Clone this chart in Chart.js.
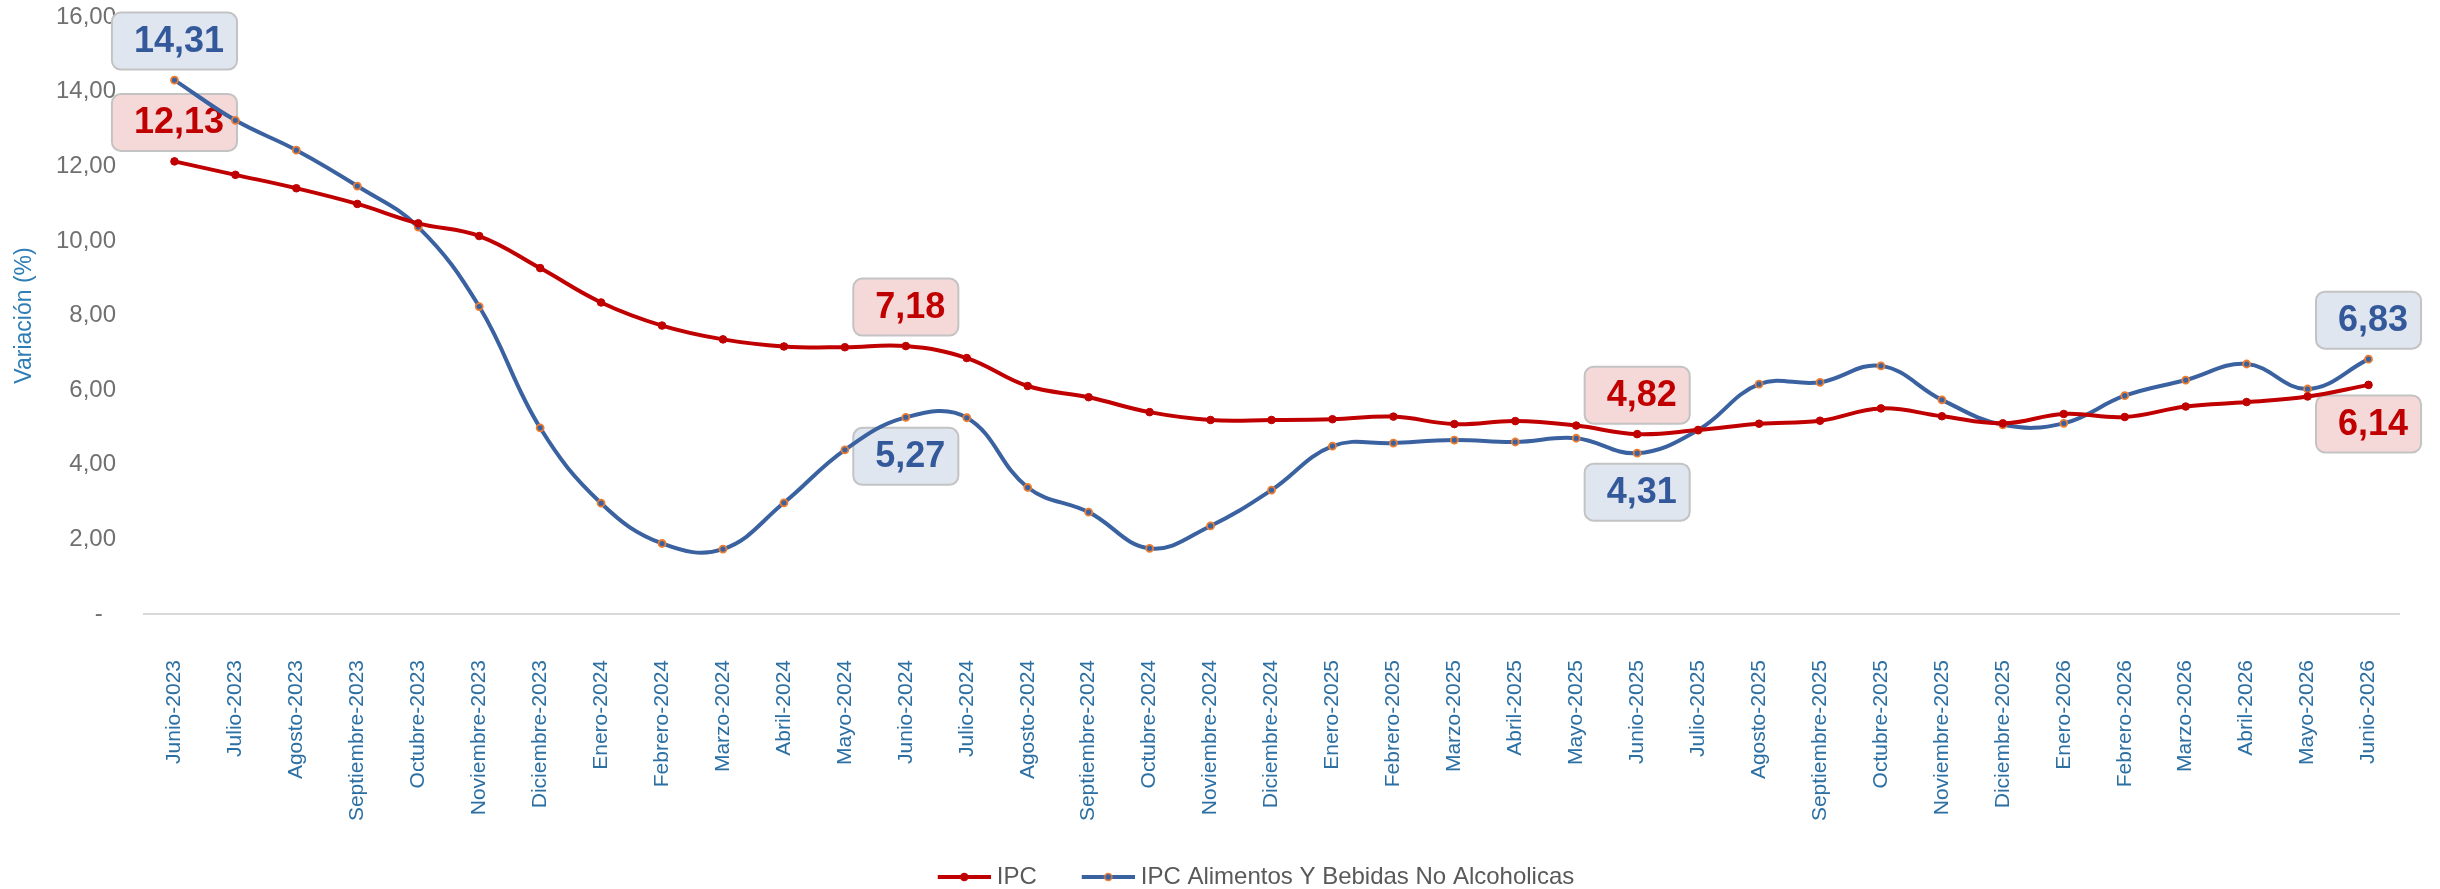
<!DOCTYPE html>
<html lang="es">
<head>
<meta charset="utf-8">
<title>Variación IPC</title>
<script src="https://cdn.jsdelivr.net/npm/chart.js@4.4.1/dist/chart.umd.min.js"></script>
<style>
  html, body { margin: 0; padding: 0; background: #fff; }
  #wrap { width: 2440px; height: 889px; }
</style>
</head>
<body>
<div id="wrap"><canvas id="grafico" width="2440" height="889"></canvas></div>
<script>
// Datos
const meses = [
  'Junio-2023', 'Julio-2023', 'Agosto-2023', 'Septiembre-2023', 'Octubre-2023', 'Noviembre-2023', 'Diciembre-2023',
  'Enero-2024', 'Febrero-2024', 'Marzo-2024', 'Abril-2024', 'Mayo-2024', 'Junio-2024', 'Julio-2024', 'Agosto-2024',
  'Septiembre-2024', 'Octubre-2024', 'Noviembre-2024', 'Diciembre-2024',
  'Enero-2025', 'Febrero-2025', 'Marzo-2025', 'Abril-2025', 'Mayo-2025', 'Junio-2025', 'Julio-2025', 'Agosto-2025',
  'Septiembre-2025', 'Octubre-2025', 'Noviembre-2025', 'Diciembre-2025',
  'Enero-2026', 'Febrero-2026', 'Marzo-2026', 'Abril-2026', 'Mayo-2026', 'Junio-2026'
];

const ipc = [
  12.13, 11.77, 11.41, 10.99, 10.47, 10.13, 9.27,
  8.35, 7.73, 7.36, 7.17, 7.15, 7.18, 6.86, 6.11,
  5.81, 5.41, 5.20, 5.20,
  5.22, 5.29, 5.09, 5.17, 5.05, 4.82, 4.93, 5.10,
  5.18, 5.51, 5.30, 5.11,
  5.36, 5.28, 5.56, 5.68, 5.83, 6.14
];

const ipcAlimentos = [
  14.31, 13.23, 12.43, 11.47, 10.37, 8.24, 4.99,
  2.97, 1.89, 1.74, 2.98, 4.40, 5.27, 5.26, 3.39,
  2.73, 1.76, 2.36, 3.32,
  4.50, 4.58, 4.66, 4.61, 4.71, 4.31, 4.93, 6.16,
  6.21, 6.65, 5.74, 5.07,
  5.11, 5.85, 6.27, 6.70, 6.03, 6.83
];

const yTickLabels = ['-', '2,00', '4,00', '6,00', '8,00', '10,00', '12,00', '14,00', '16,00'];

// puntos con etiqueta (indice) y lado: -1 arriba, 1 abajo
const ipcEtiquetas = [0, 12, 24, 36];
const ipcLados = [-1, -1, -1, 1];
const alimEtiquetas = [0, 12, 24, 36];
const alimLados = [-1, 1, 1, -1];

const ROJO = '#c00000';
const AZUL = '#3b62a0';
const NARANJA = '#ed7d31';
const FUENTE = '"Liberation Sans", Arial, sans-serif';

function formato(v) {
  return v.toFixed(2).replace('.', ',');
}

// Marcador de la leyenda: linea con punto
function marcador(colorLinea, colorPunto, bordePunto) {
  const c = document.createElement('canvas');
  c.width = 70;
  c.height = 12;
  const g = c.getContext('2d');
  g.strokeStyle = colorLinea;
  g.lineWidth = 4;
  g.beginPath();
  g.moveTo(17, 6);
  g.lineTo(70, 6);
  g.stroke();
  g.beginPath();
  g.arc(43.5, 6, 3.5, 0, Math.PI * 2);
  g.fillStyle = colorPunto;
  g.fill();
  g.lineWidth = 1.5;
  g.strokeStyle = bordePunto;
  g.stroke();
  return c;
}
const marcadores = [marcador(ROJO, ROJO, ROJO), marcador(AZUL, AZUL, NARANJA)];

// Cajas con el valor
const estilosEtiqueta = [
  { idx: ipcEtiquetas, lados: ipcLados, fondo: '#f5d9d9', texto: ROJO },
  { idx: alimEtiquetas, lados: alimLados, fondo: '#dfe6f0', texto: '#34599a' }
];

const etiquetasPlugin = {
  id: 'etiquetas',
  beforeDatasetsDraw(chart) {
    const ctx = chart.ctx;
    estilosEtiqueta.forEach((est, di) => {
      const meta = chart.getDatasetMeta(di);
      const datos = chart.data.datasets[di].data;
      est.idx.forEach((i, k) => {
        const p = meta.data[i];
        const txt = formato(datos[i]);
        ctx.save();
        ctx.font = 'bold 36px ' + FUENTE;
        const w = ctx.measureText(txt).width + 35;
        const h = 57;
        const cy = p.y + est.lados[k] * 39;
        ctx.beginPath();
        ctx.roundRect(p.x - w / 2, cy - h / 2, w, h, 9);
        ctx.fillStyle = est.fondo;
        ctx.fill();
        ctx.lineWidth = 2;
        ctx.strokeStyle = '#c3c3c3';
        ctx.stroke();
        ctx.fillStyle = est.texto;
        ctx.textAlign = 'center';
        ctx.textBaseline = 'middle';
        ctx.fillText(txt, p.x + 4.5, cy + 1);
        ctx.restore();
      });
    });
  }
};

// mover la leyenda un poco a la derecha / abajo
const leyendaOffset = { x: 49, y: 10 };
const moverLeyenda = {
  id: 'moverLeyenda',
  afterLayout(chart) {
    const l = chart.legend;
    if (!l) return;
    l.left += leyendaOffset.x;
    l.right += leyendaOffset.x;
    l.top += leyendaOffset.y;
    l.bottom += leyendaOffset.y;
  }
};

const ctx = document.getElementById('grafico').getContext('2d');

new Chart(ctx, {
  type: 'line',
  data: {
    labels: meses,
    datasets: [
      {
        label: 'IPC',
        data: ipc,
        borderColor: ROJO,
        backgroundColor: ROJO,
        borderWidth: 4,
        pointRadius: 3.8,
        pointBackgroundColor: ROJO,
        pointBorderColor: ROJO,
        pointBorderWidth: 1,
        tension: 0.4,
        fill: false
      },
      {
        label: 'IPC Alimentos Y Bebidas No Alcoholicas',
        data: ipcAlimentos,
        borderColor: AZUL,
        backgroundColor: AZUL,
        borderWidth: 4,
        pointRadius: 3.5,
        pointBackgroundColor: AZUL,
        pointBorderColor: NARANJA,
        pointBorderWidth: 1.8,
        tension: 0.4,
        fill: false
      }
    ]
  },
  options: {
    responsive: false,
    animation: false,
    layout: { padding: { left: 4, right: 41, top: 17, bottom: 0 } },
    scales: {
      x: {
        offset: true,
        afterFit(scale) {
          scale.height = 207;
          scale.paddingLeft = 0;
          scale.paddingRight = 0;
        },
        grid: { display: false, drawTicks: false },
        border: { display: true, color: '#d9d9d9', width: 2 },
        ticks: {
          autoSkip: false,
          minRotation: 90,
          maxRotation: 90,
          padding: 46,
          color: '#2b6fa3',
          font: { family: FUENTE, size: 21 }
        }
      },
      y: {
        min: 0,
        max: 16,
        afterFit(scale) {
          scale.width = 140;
          scale.paddingTop = 0;
          scale.paddingBottom = 0;
        },
        grid: { display: false, drawTicks: false },
        border: { display: false },
        ticks: {
          stepSize: 2,
          padding: 28,
          color: '#707070',
          font: { family: FUENTE, size: 24 },
          callback: (v, i) => {
            const t = yTickLabels[i];
            return t === '-' ? '-  ' : t;
          }
        },
        title: {
          display: true,
          text: 'Variación (%)',
          color: '#2e7db5',
          font: { family: FUENTE, size: 23 },
          padding: { top: 7, bottom: 4 }
        }
      }
    },
    plugins: {
      tooltip: { enabled: false },
      legend: {
        position: 'bottom',
        labels: {
          usePointStyle: true,
          pointStyleWidth: 58,
          padding: 34,
          color: '#595959',
          font: { family: FUENTE, size: 24 },
          generateLabels(chart) {
            const items = Chart.defaults.plugins.legend.labels.generateLabels(chart);
            items.forEach((it, i) => { it.pointStyle = marcadores[i]; });
            return items;
          }
        }
      }
    }
  },
  plugins: [etiquetasPlugin, moverLeyenda]
});
</script>
</body>
</html>
